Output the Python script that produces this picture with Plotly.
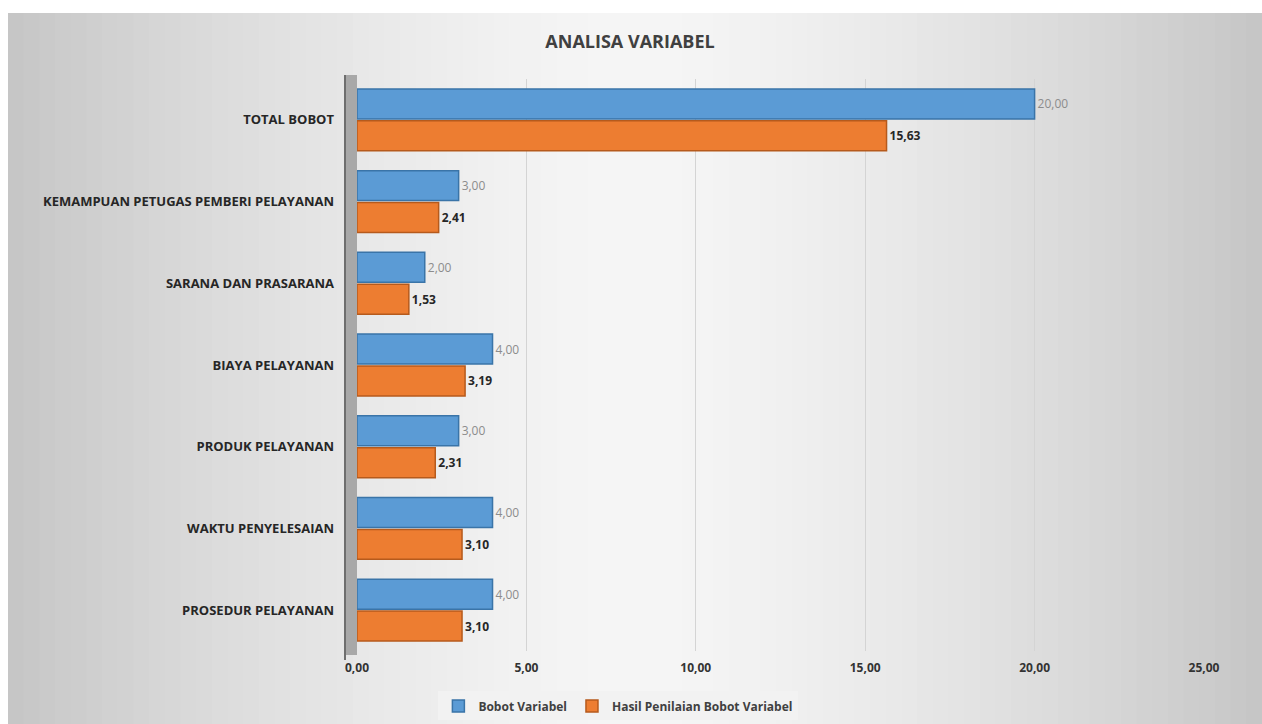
import plotly.graph_objects as go

categories = [
    "PROSEDUR PELAYANAN",
    "WAKTU PENYELESAIAN",
    "PRODUK PELAYANAN",
    "BIAYA PELAYANAN",
    "SARANA DAN PRASARANA",
    "KEMAMPUAN PETUGAS PEMBERI PELAYANAN",
    "TOTAL BOBOT",
]
bobot_variabel = [4.00, 4.00, 3.00, 4.00, 2.00, 3.00, 20.00]
hasil_penilaian = [3.10, 3.10, 2.31, 3.19, 1.53, 2.41, 15.63]
x_ticks = [0, 5, 10, 15, 20, 25]

W, H = 1262, 724
ML, MR, MT, MB = 357, 58, 79, 73
PW, PH = W - ML - MR, H - MT - MB
FONT = "Open Sans, sans-serif"


def px_to_paper_x(px):
    return (px - ML) / PW


def px_to_paper_y(py):
    return (H - MB - py) / PH


fig = go.Figure()

# Orange first so blue sits on top within each group
fig.add_trace(go.Bar(
    y=categories, x=hasil_penilaian, orientation="h",
    name="Hasil Penilaian Bobot Variabel",
    marker=dict(color="#ed7d31", line=dict(color="#b65a1c", width=1.5)),
    texttemplate="%{x:.2f}", textposition="outside",
    textfont=dict(color="#262626", size=12, family=FONT, weight="bold"),
    cliponaxis=False,
))
fig.add_trace(go.Bar(
    y=categories, x=bobot_variabel, orientation="h",
    name="Bobot Variabel",
    marker=dict(color="#5b9bd5", line=dict(color="#3a74a8", width=1.5)),
    texttemplate="%{x:.2f}", textposition="outside",
    textfont=dict(color="#8c8c8c", size=12, family=FONT),
    cliponaxis=False,
))

# Background gradient (decorative strips) covering the chart area
shapes = []
n = 80
left_px, right_px, top_px, bot_px = 8, W, 13, H
for i in range(n):
    t0 = i / n
    t1 = (i + 1) / n
    tm = (t0 + t1) / 2
    d = abs(tm - 0.5) * 2  # 0 center, 1 edge
    v = int(246 - 48 * d ** 1.5)
    x0 = px_to_paper_x(left_px + (right_px - left_px) * t0)
    x1 = px_to_paper_x(left_px + (right_px - left_px) * t1 + 1)
    shapes.append(dict(
        type="rect", xref="paper", yref="paper", layer="below",
        x0=x0, x1=x1, y0=px_to_paper_y(bot_px), y1=px_to_paper_y(top_px),
        line=dict(width=0), fillcolor=f"rgb({v},{v},{v})",
    ))
# left 3D wall
shapes.append(dict(
    type="rect", xref="paper", yref="paper", layer="below",
    x0=px_to_paper_x(345), x1=px_to_paper_x(357),
    y0=px_to_paper_y(655), y1=px_to_paper_y(75),
    line=dict(width=0), fillcolor="#a8a8a8",
))
shapes.append(dict(
    type="line", xref="paper", yref="paper", layer="below",
    x0=px_to_paper_x(345), x1=px_to_paper_x(345),
    y0=px_to_paper_y(660), y1=px_to_paper_y(75),
    line=dict(width=2, color="#6e6e6e"),
))

fig.update_layout(
    width=W, height=H,
    paper_bgcolor="white",
    plot_bgcolor="rgba(0,0,0,0)",
    separators=",.",
    barmode="group",
    bargap=0.22,
    bargroupgap=0.06,
    margin=dict(l=ML, r=MR, t=MT, b=MB),
    font=dict(family=FONT, color="#404040"),
    title=dict(
        text="ANALISA VARIABEL",
        x=630 / W, xref="container", xanchor="center",
        y=1 - 42 / H, yref="container", yanchor="middle",
        font=dict(size=18, color="#404040", family=FONT, weight="bold"),
    ),
    xaxis=dict(
        range=[0, 25], tickvals=x_ticks, tickformat=".2f",
        showgrid=True, gridcolor="#d4d4d4", gridwidth=1,
        zeroline=False, showline=False,
        tickfont=dict(size=12, color="#333333", family=FONT, weight="bold"),
        ticks="", ticklabelstandoff=8,
    ),
    yaxis=dict(
        categoryorder="array", categoryarray=categories,
        showgrid=False, zeroline=False, showline=False,
        tickfont=dict(size=13, color="#262626", family=FONT, weight="bold"),
        ticks="", ticklabelstandoff=22,
    ),
    legend=dict(
        orientation="h", traceorder="reversed",
        xref="container", yref="container",
        x=0.49, xanchor="center", y=0.005, yanchor="bottom",
        bgcolor="#f2f2f2",
        font=dict(size=12, color="#404040", family=FONT, weight="bold"),
        itemwidth=30,
    ),
    shapes=shapes,
    showlegend=True,
)

fig.write_html("out.html")
